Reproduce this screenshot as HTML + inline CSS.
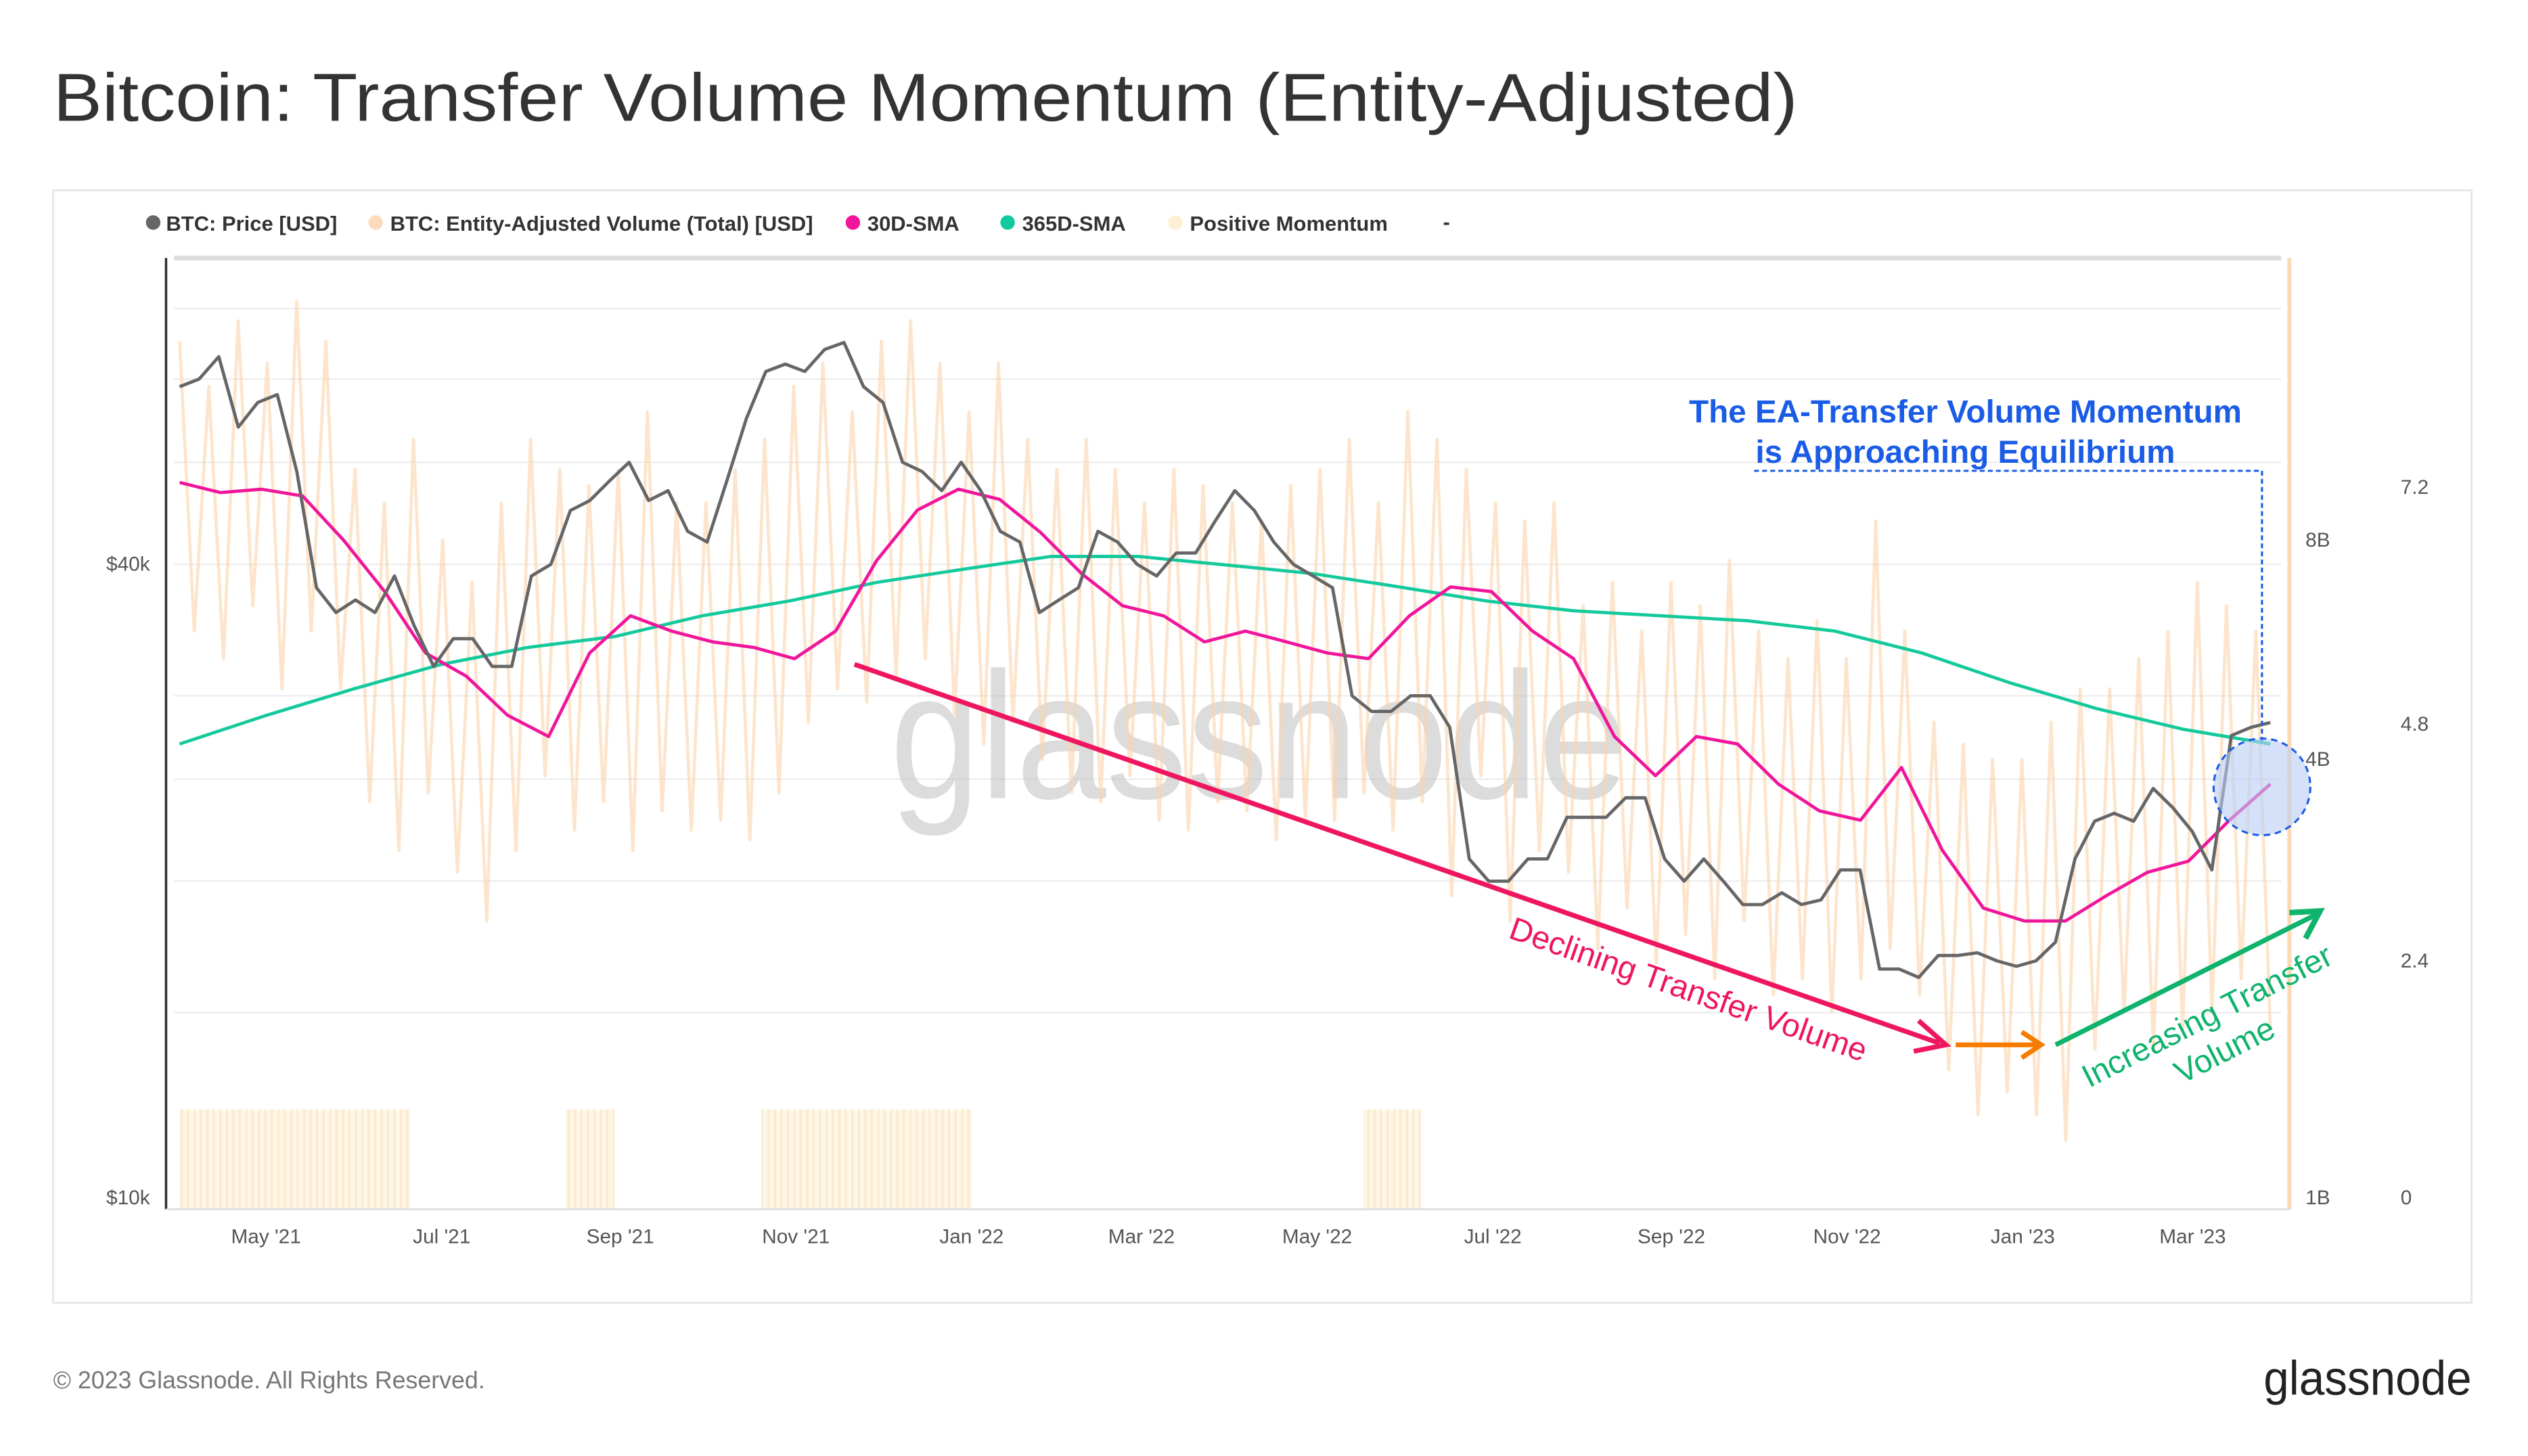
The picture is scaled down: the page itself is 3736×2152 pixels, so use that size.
<!DOCTYPE html>
<html><head><meta charset="utf-8">
<style>
html,body{margin:0;padding:0;background:#fff;}
svg{display:block;font-family:"Liberation Sans",Arial,sans-serif;}
</style></head>
<body>
<svg id="chart" width="3736" height="2152" viewBox="0 0 1568 903" preserveAspectRatio="none" xmlns="http://www.w3.org/2000/svg">
<defs>
<pattern id="stripes" width="4" height="10" patternUnits="userSpaceOnUse">
<rect width="4" height="10" fill="#fef6e6"/><rect width="1.4" height="10" fill="#fbebcf"/>
</pattern>
<clipPath id="plotclip"><rect x="103" y="160" width="1318" height="590"/></clipPath>
</defs>
<rect width="1568" height="903" fill="#fff"/>
<text x="33" y="75" font-size="42" fill="#333" textLength="1082" lengthAdjust="spacingAndGlyphs">Bitcoin: Transfer Volume Momentum (Entity-Adjusted)</text>
<rect x="33" y="118" width="1500" height="690" fill="none" stroke="#e6e6e6" stroke-width="1.2"/>
<g id="legend" font-size="13" font-weight="bold" fill="#333">
<g><circle cx="95" cy="138" r="4.5" fill="#666"/><text x="103" y="143">BTC: Price [USD]</text></g>
<g><circle cx="233" cy="138" r="4.5" fill="#fcdcbc"/><text x="242" y="143">BTC: Entity-Adjusted Volume (Total) [USD]</text></g>
<g><circle cx="529" cy="138" r="4.5" fill="#f0169b"/><text x="538" y="143">30D-SMA</text></g>
<g><circle cx="625" cy="138" r="4.5" fill="#13c9a0"/><text x="634" y="143">365D-SMA</text></g>
<g><circle cx="729" cy="138" r="4.5" fill="#fdf0d5"/><text x="738" y="143">Positive Momentum</text></g>
<text x="895" y="142">-</text>
</g>
<line x1="108" y1="160" x2="1415" y2="160" stroke="#ddd" stroke-width="3"/>
<g id="grid"></g>
<g id="momentum"></g>
<text x="552" y="495" font-size="112" fill="#bbb" opacity="0.5" textLength="458" lengthAdjust="spacingAndGlyphs">glassnode</text>
<g id="series" clip-path="url(#plotclip)"></g>
<line x1="1420" y1="160" x2="1420" y2="750" stroke="#fcd9b5" stroke-width="2.5"/>
<line x1="103" y1="160" x2="103" y2="750" stroke="#333" stroke-width="1.5"/>
<line x1="103" y1="750" x2="1420" y2="750" stroke="#ddd" stroke-width="1.2"/>
<g id="axes" font-size="12.5" fill="#555"></g>
<g>
<line x1="530" y1="412" x2="1203" y2="647" stroke="#ee1660" stroke-width="3"/>
<polyline points="1190,633 1207,648 1187,652" fill="none" stroke="#ee1660" stroke-width="3"/>
<text x="1045" y="620" font-size="20" fill="#ee1660" text-anchor="middle" transform="rotate(19.3 1045 620)">Declining Transfer Volume</text>
</g>
<g>
<line x1="1213" y1="648" x2="1265" y2="648" stroke="#f57c00" stroke-width="3"/>
<polyline points="1254,640 1266,648 1254,656" fill="none" stroke="#f57c00" stroke-width="3"/>
</g>
<g>
<line x1="1275" y1="648" x2="1437" y2="567" stroke="#0fb36c" stroke-width="3"/>
<polyline points="1420,566 1439,565 1430,582" fill="none" stroke="#0fb36c" stroke-width="3.5"/>
<text font-size="20" fill="#0fb36c" text-anchor="middle" transform="translate(1372 636) rotate(-27)"><tspan x="0" y="0">Increasing Transfer</tspan><tspan x="0" y="24">Volume</tspan></text>
</g>
<g>
<text x="1219" y="262" font-size="20" font-weight="bold" fill="#1a5ce6" text-anchor="middle">The EA-Transfer Volume Momentum</text>
<text x="1219" y="287" font-size="20" font-weight="bold" fill="#1a5ce6" text-anchor="middle">is Approaching Equilibrium</text>
<polyline points="1088,292 1403,292 1403,460" fill="none" stroke="#1a5ce6" stroke-width="1.3" stroke-dasharray="3,2"/>
<ellipse cx="1403" cy="488" rx="30" ry="30" fill="#b9cdf5" fill-opacity="0.6" stroke="#1a5ce6" stroke-width="1.3" stroke-dasharray="4,3"/>
</g>
<text x="33" y="861" font-size="15" fill="#777">© 2023 Glassnode. All Rights Reserved.</text>
<text x="1404" y="865" font-size="30" fill="#222" textLength="129" lengthAdjust="spacingAndGlyphs">glassnode</text>
</svg>
<script>
// ---- data ----
const priceK = [59,60,63,54,57,58,49,38,36,37,36,39,35,32,34,34,32,32,39,40,45,46,48,50,46,47,43,42,48,55,61,62,61,64,65,59,57,50,49,47,50,47,43,42,36,37,38,43,42,40,39,41,41,44,47,45,42,40,39,38,30,29,29,30,30,28,21,20,20,21,21,23,23,23,24,24,21,20,21,20,19,19,19.5,19,19.2,20.5,20.5,16.5,16.5,16.2,17,17,17.1,16.8,16.6,16.8,17.5,21,22.8,23.2,22.8,24.5,23.5,22.3,20.5,27.5,28,28.3];
const volumeB = [15,6,13,5.5,16,6.5, 14,5,17,6,15,5, 10,3.5,9,3,11,3.6, 8,2.8,7,2.4,9,3, 11,3.8,10,3.2,9.5,3.5, 10,3,12,3.4,9,3.2, 9,3.3,10,3.1,11,3.6, 13,4.5,14,5,12,4.8, 15,5.2,16,5.5,14,4.6, 12,4.2,14,4.5,11,4, 10,3.6,11,3.5,10,3.8, 9,3.3,10,3.2,9.5,3.5, 9,3.4,8.5,3.1,9.5,3.3, 10,3.3,11,3.6,9,3.2, 12,3.5,11,2.6,10,3.8, 9,2.4,8.5,3,9,2.8, 6.5,2.2,7,2.5,6,2.1, 7,2.3,6.5,2,7.5,2.4, 6,1.9,5.5,2,6.2,1.8, 5.5,2,8.5,2.2,6,1.9, 4.5,1.5,4.2,1.3,4,1.4, 4,1.3,4.5,1.2,5,1.6, 5,1.8,5.5,1.6,6,1.7, 7,1.8,6.5,2,6,1.7];
const sma30B = [9.6,9.3, 9.4,9.2,8.0, 6.8,5.6,5.2, 4.6,4.3,5.6, 6.3,6.0, 5.8,5.7, 5.5,6.0, 7.5,8.8, 9.4,9.1, 8.2,7.2, 6.5,6.3, 5.8,6.0, 5.8,5.6, 5.5,6.3, 6.9,6.8, 6.0,5.5, 4.3,3.8, 4.3,4.2, 3.7,3.4, 3.3,3.9, 3.0,2.5, 2.4,2.4, 2.6,2.8, 2.9,3.3,3.7];
const sma365B = [4.2,4.6,5.0,5.4,5.7,5.9,6.3,6.6,7.0,7.3,7.6,7.6,7.4,7.2,6.9,6.6,6.4,6.3,6.2,6.0,5.6,5.1,4.7,4.4,4.2];
const momentumRanges = [["2021-04-01","2021-06-20"],["2021-08-13","2021-08-30"],["2021-10-20","2022-01-01"],["2022-05-17","2022-06-06"]];
const xTickLabels = ["May '21","Jul '21","Sep '21","Nov '21","Jan '22","Mar '22","May '22","Jul '22","Sep '22","Nov '22","Jan '23","Mar '23"];
const xTickDates = ["2021-05-01","2021-07-01","2021-09-01","2021-11-01","2022-01-01","2022-03-01","2022-05-01","2022-07-01","2022-09-01","2022-11-01","2023-01-01","2023-03-01"];
const priceTicks = [40,10];
const priceTickLabels = ["$40k","$10k"];
const volTicks = [8,4,1];
const volTickLabels = ["8B","4B","1B"];
const momTicks = [7.2,4.8,2.4,0];
const momTickLabels = ["7.2","4.8","2.4","0"];
const gridPrices = [70,60,50,40,30,25,20,15];

// ---- scales ----
const d0 = Date.parse("2021-05-01"), d1 = Date.parse("2023-03-01");
const xOf = d => 165 + (Date.parse(d) - d0) / (d1 - d0) * (1360 - 165);
const xStart = xOf("2021-04-01"), xEnd = xOf("2023-03-28");
const xIdx = (i, n) => xStart + i / (n - 1) * (xEnd - xStart);
const yPrice = k => 350 - Math.log10(k / 40) * 652.7;
const yVol = b => 471 - Math.log2(b / 4) * 136;
const yMom = m => 743 - m * 61.2;

const NS = "http://www.w3.org/2000/svg";
function mk(tag, parent) { const e = document.createElementNS(NS, tag); parent.appendChild(e); return e; }
const grid = document.getElementById('grid');
const series = document.getElementById('series');
const axes = document.getElementById('axes');
const mom = document.getElementById('momentum');

gridPrices.forEach(p => {
  const l = mk('line', grid);
  
  
  l.setAttribute('x1', 108); l.setAttribute('x2', 1415);
  l.setAttribute('y1', yPrice(p)); l.setAttribute('y2', yPrice(p));
  l.setAttribute('stroke', '#eee'); l.setAttribute('stroke-width', '1');
});

momentumRanges.forEach(r => {
  const rc = mk('rect', mom);
  
  
  const a = Math.max(xOf(r[0]), 110), b = xOf(r[1]);
  rc.setAttribute('x', a); rc.setAttribute('width', b - a);
  rc.setAttribute('y', 688); rc.setAttribute('height', 62);
  rc.setAttribute('fill', 'url(#stripes)');
});

function line(vals, yf, color, w, name, op) {
  const p = mk('path', series);
  
  
  p.setAttribute('d', vals.map((v, i) => (i ? 'L' : 'M') + xIdx(i, vals.length).toFixed(1) + ',' + yf(v).toFixed(1)).join(''));
  p.setAttribute('fill', 'none'); p.setAttribute('stroke', color);
  p.setAttribute('stroke-width', w); p.setAttribute('stroke-linejoin', 'round');
  if (op) p.setAttribute('opacity', op);
}
line(volumeB, yVol, '#fbd3ac', 2, 'volume-line', 0.6);
line(sma365B, yVol, '#14c99b', 2, 'sma-365d-line');
line(sma30B, yVol, '#f0169b', 2, 'sma-30d-line');
line(priceK, yPrice, '#666', 2, 'price-line');

function label(x, y, txt, anchor, name) {
  const t = mk('text', axes);
  
  
  t.setAttribute('x', x); t.setAttribute('y', y);
  t.setAttribute('text-anchor', anchor);
  t.textContent = txt;
}
xTickDates.forEach((d, i) => label(xOf(d), 771, xTickLabels[i], 'middle', 'x-tick-label'));
priceTicks.forEach((p, i) => label(93, yPrice(p) + 4, priceTickLabels[i], 'end', 'price-tick-label'));
volTicks.forEach((v, i) => label(1430, yVol(v) + 4, volTickLabels[i], 'start', 'volume-tick-label'));
momTicks.forEach((m, i) => label(1489, yMom(m) + 4, momTickLabels[i], 'start', 'momentum-tick-label'));
</script>
</body></html>
